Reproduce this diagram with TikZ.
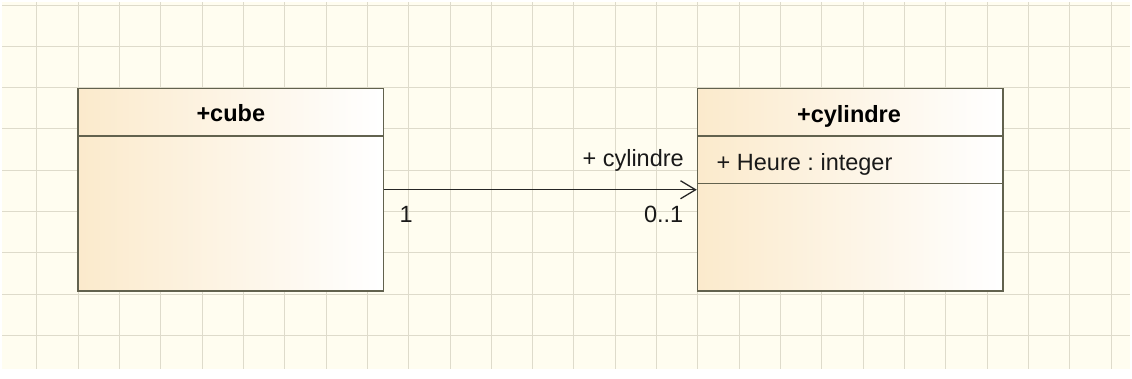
\documentclass[tikz,border=0pt]{standalone}
\usepackage{fontspec}
\setmainfont{Liberation Sans}
\usetikzlibrary{arrows.meta}
\definecolor{bgcream}{RGB}{255,253,240}
\definecolor{gridcol}{RGB}{222,219,203}
\definecolor{boxline}{RGB}{98,98,78}
\definecolor{boxleft}{RGB}{251,234,204}
\definecolor{boxmid}{RGB}{253,246,230}
\definecolor{txt}{RGB}{25,25,25}
\tikzset{
  classbox/.style={draw=boxline, line width=1.5pt, left color=boxleft, middle color=boxmid, right color=white, inner sep=0pt, minimum width=305.5pt, minimum height=202.5pt},
  sepline/.style={draw=boxline, line width=1.3pt},
  titletext/.style={font=\fontsize{23.5}{27}\selectfont\bfseries, text=black, inner sep=0pt, anchor=base},
  plaintext/.style={font=\fontsize{23.5}{27}\selectfont\frenchspacing, text=txt, inner sep=0pt},
  assoc/.style={draw=black!85, line width=1.3pt, -{Straight Barb[length=15pt,width=18pt,line width=1.3pt]}},
  gridline/.style={draw=gridcol, line width=1pt}
}
\begin{document}
\frenchspacing
\begin{tikzpicture}[x=1pt,y=-1pt]
\useasboundingbox (0,0) rectangle (1132,378);
\fill[white] (0,0) rectangle (1132,378);
\fill[bgcream] (2,2) rectangle (1130,369);
\foreach \i in {0,...,26} {
  \draw[gridline] ({36.7+41.33*\i},2) -- ({36.7+41.33*\i},369);
}
\foreach \j in {0,...,8} {
  \draw[gridline] (2,{5+41.33*\j}) -- (1130,{5+41.33*\j});
}
% class cube
\node[classbox] (cube) at (230.8,189.75) {};
\draw[sepline] (cube.west |- 0,136) -- (cube.east |- 0,136);
\node[titletext] (cubeT) at (230.8,121.7) {+cube};
% class cylindre
\node[classbox] (cyl) at (850.3,189.75) {};
\draw[sepline] (cyl.west |- 0,136) -- (cyl.east |- 0,136);
\draw[sepline] (cyl.west |- 0,183.3) -- (cyl.east |- 0,183.3);
\node[titletext] (cylT) at (849,122.7) {+cylindre};
\node[plaintext, anchor=base west] (attr) at (716.5,170.7) {\frenchspacing + Heure : integer};
% association
\draw[assoc] (cube.east) -- (cyl.west);
\node[plaintext, anchor=base east] (role) at (684,166.5) {+ cylindre};
\node[plaintext, anchor=base west] (m1) at (399.5,222.7) {1};
\node[plaintext, anchor=base east] (m2) at (683.5,222.7) {0..1};
\end{tikzpicture}
\end{document}
